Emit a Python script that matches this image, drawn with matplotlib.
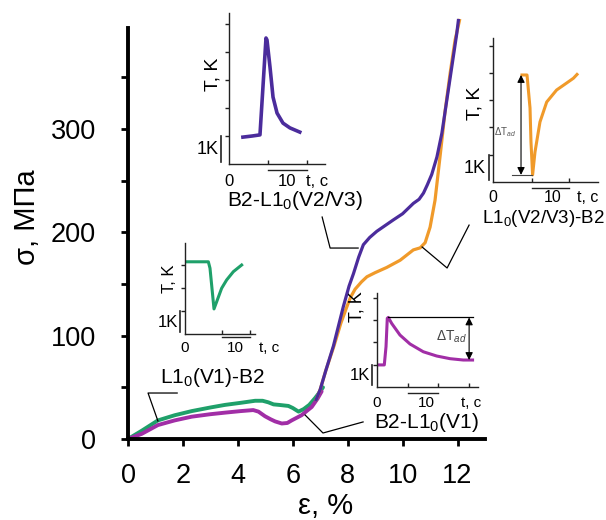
import matplotlib
matplotlib.use("Agg")
import matplotlib.pyplot as plt

plt.rcParams['font.family'] = ['Liberation Sans', 'DejaVu Sans']
plt.rcParams['mathtext.fontset'] = 'custom'
plt.rcParams['mathtext.rm'] = 'Liberation Sans'
plt.rcParams['mathtext.it'] = 'Liberation Sans:italic'

#********** main curves (strain %, stress MPa) **********
eps_green = [0, 0.5, 1.09, 1.7, 2.32, 3.0, 3.53, 4.1, 4.63, 4.9, 5.11, 5.3, 5.5, 5.84, 6.0, 6.21, 6.4, 6.6, 6.81, 7.0, 7.1]
sig_green = [0, 8, 18, 23, 27, 30.5, 33, 35, 37, 37, 35.5, 33.5, 33, 32, 30, 26.5, 29, 33, 39.5, 46, 50]
eps_mag = [0, 0.5, 1.09, 1.7, 2.32, 3.0, 3.53, 4.1, 4.56, 4.75, 4.99, 5.2, 5.36, 5.6, 5.8, 5.96, 6.32, 6.55, 6.69, 6.9, 7.05]
sig_mag = [0, 5, 13.5, 18, 21.6, 24, 25.5, 27, 28, 26.5, 22, 19, 17, 15, 15.5, 18, 23, 28, 31, 39, 46]
eps_purple = [6.85, 7.0, 7.2, 7.48, 7.84, 8.05, 8.21, 8.4, 8.57, 8.8, 9.06, 9.66, 10.0, 10.39, 10.6, 10.76, 10.9, 11.06, 11.25, 11.43, 11.61, 11.79, 11.97, 12.03]
sig_purple = [38, 48, 66, 90, 128, 148, 160, 176, 188, 195, 201, 212, 218, 228, 232, 238, 246, 256, 273, 296, 328, 360, 392, 405]
eps_orange = [6.85, 7.0, 7.2, 7.5, 7.75, 7.97, 8.1, 8.27, 8.5, 8.7, 9.0, 9.42, 9.91, 10.39, 10.64, 10.82, 11.0, 11.18, 11.37, 11.55, 11.73, 11.91, 12.07]
sig_orange = [38, 48, 66, 90, 112, 128, 137, 145, 152, 157, 161, 166, 173, 183, 185, 190, 205, 231, 275, 318, 354, 386, 405]

#********** inset curves (time s, temperature K) **********
t_purple = [2.4, 4.0, 5.34, 6.38, 6.55, 7.07, 7.59, 8.28, 9.31, 10.5, 12.2]
T_purple = [0.96, 1.0, 1.04, 4.5, 4.43, 3.46, 2.39, 1.82, 1.46, 1.29, 1.14]
t_orange = [4.83, 5.67, 6.17, 6.33, 6.6, 7.0, 7.83, 8.95, 10.6, 12.3, 13.4, 14.0]
T_orange = [3.92, 3.92, 2.71, 1.47, 0.26, 1.1, 2.2, 2.93, 3.37, 3.63, 3.8, 3.94]
t_green = [0.33, 4.67, 5.0, 5.33, 5.8, 6.33, 7.33, 8.33, 9.67, 11.33]
T_green = [3.14, 3.14, 2.86, 2.13, 1.09, 1.4, 1.99, 2.35, 2.71, 3.0]
t_mag = [0.27, 1.49, 1.84, 2.1, 2.31, 3.0, 4.69, 6.73, 9.45, 12.18, 14.9, 17.6, 19.5]
T_mag = [0.99, 0.99, 1.81, 3.08, 3.12, 2.85, 2.33, 1.93, 1.58, 1.39, 1.27, 1.21, 1.21]

x_ticks = [0, 2, 4, 6, 8, 10, 12]
y_ticks = [0, 100, 200, 300]
y_minor = [50, 150, 250, 350]

c_purple = '#4b2c9c'
c_orange = '#f09a2a'
c_green = '#1fa06a'
c_mag = '#a12ea6'

W, H = 606, 520


def box(x0, ytop, x1, ybot):
    return [x0 / W, 1 - ybot / H, (x1 - x0) / W, (ybot - ytop) / H]


fig = plt.figure(figsize=(W / 100, H / 100), dpi=100)
ax = fig.add_axes(box(128, 439 - 410 * 1.0333, 485, 439))
ax.patch.set_alpha(0)

ax.plot(eps_green, sig_green, color=c_green, lw=2.8, solid_capstyle='round')
ax.plot(eps_mag, sig_mag, color=c_mag, lw=2.8, solid_capstyle='round')
ax.plot(eps_orange, sig_orange, color=c_orange, lw=2.3, clip_on=False)
ax.plot(eps_purple, sig_purple, color=c_purple, lw=2.3, clip_on=False)

ax.set_xlim(0, 13)
ax.set_ylim(0, 410)
ax.spines['top'].set_visible(False)
ax.spines['right'].set_visible(False)
ax.spines['left'].set_bounds(0, 398)
for s in ['left', 'bottom']:
    ax.spines[s].set_linewidth(2.8)
ax.set_xticks(x_ticks)
ax.set_yticks(y_ticks)
ax.set_yticks(y_minor, minor=True)
ax.tick_params(axis='both', which='both', length=5, width=2, labelsize=19.5)
ax.tick_params(axis='x', pad=12)
ax.tick_params(axis='y', pad=18)
ax.set_ylabel('σ, МПа', fontsize=21)
ax.yaxis.set_label_coords(-0.245, 0.524)
ax.set_xlabel('ε, %', fontsize=21)
ax.xaxis.set_label_coords(0.553, -0.125)

# leader lines and phase labels
lab = dict(fontsize=15, ha='center', va='center')
ax.plot([1.79, 0.73, 1.09], [44.5, 44.5, 17.4], color='k', lw=0.9)
ax.text(3.06, 60, r'L1$_\mathrm{0}$(V1)-B2', **lab)
ax.plot([8.56, 7.10, 6.45], [16.5, 5.8, 23.2], color='k', lw=0.9)
ax.text(10.86, 15.5, r'B2-L1$_\mathrm{0}$(V1)', **lab)
ax.plot([8.38, 7.36, 7.07], [184.8, 184.8, 214.8], color='k', lw=0.9)
ax.text(6.08, 231, r'B2-L1$_\mathrm{0}$(V2/V3)', **lab)
ax.plot([10.71, 11.62, 12.42], [185.8, 165.5, 207], color='k', lw=0.9, clip_on=False)
ax.text(15.12, 213, r'L1$_\mathrm{0}$(V2/V3)-B2', clip_on=False, fontsize=13.5, ha='center', va='center')


def make_inset(x0, ybot, x1, ytop, px_s, px_k):
    a = fig.add_axes(box(x0, ytop, x1, ybot))
    a.patch.set_alpha(0)
    a.set_xlim(0, (x1 - x0) / px_s)
    a.set_ylim(0, (ybot - ytop) / px_k)
    a.spines['top'].set_visible(False)
    a.spines['right'].set_visible(False)
    for s in ['left', 'bottom']:
        a.spines[s].set_linewidth(1.0)
        a.spines[s].set_color('#222222')
    a.tick_params(axis='y', direction='out', length=3, width=1, color='#222222', labelleft=False)
    a.tick_params(axis='x', direction='in', length=3, width=1, color='#222222', labelbottom=False)
    return a


def decorate(a, ticks, bar, bar_y, lab_y, tc_x, kx, k_lab_x, tk, fs_t=12, fs_k=13, fs_tk=14):
    a.set_xticks(ticks)
    a.set_yticks(range(1, int(a.get_ylim()[1]) + 1))
    a.plot(bar, [bar_y, bar_y], color='#222222', lw=1, clip_on=False)
    a.plot([kx, kx], [0.08, 1.0], color='#222222', lw=1.2, clip_on=False)
    a.text(k_lab_x, 0.5, '1K', fontsize=fs_k, ha='right', va='center')
    a.text(0, lab_y, '0', fontsize=fs_t, ha='center', va='top')
    a.text(10, lab_y, '10', fontsize=fs_t, ha='center', va='top')
    a.text(tc_x, lab_y, 't, c', fontsize=fs_t, ha='center', va='top')
    a.text(tk[0], tk[1], 'T, K', fontsize=fs_tk, rotation=90, ha='center', va='center')


def dbl_arrow(a, x, y1, y2):
    a.annotate('', xy=(x, y1), xytext=(x, y2),
               arrowprops=dict(arrowstyle='<|-|>', color='k', lw=0.8,
                               mutation_scale=11, shrinkA=0, shrinkB=0))


# B2-L10(V2/V3) inset
ai = make_inset(229, 164, 325, 13, 5.8, 28)
ai.plot(t_purple, T_purple, color=c_purple, lw=2.6, solid_joinstyle='round')
decorate(ai, [6.7, 13.4], [6.7, 13.4], -0.22, -0.35, 15.2, -1.4, -1.8, (-2.8, 3.2))

# L10(V2/V3)-B2 inset
ai = make_inset(493, 182, 598, 38, 6.0, 27.3)
ai.plot(t_orange, T_orange, color=c_orange, lw=2.2)
decorate(ai, [6.5, 12.7], [6.5, 12.7], -0.22, -0.3, 15.7, -0.67, -1.2, (-3.0, 2.9), fs_t=11.5)
ai.plot([3.17, 6.5], [0.26, 0.26], color='#444444', lw=0.8)
dbl_arrow(ai, 4.67, 3.92, 0.26)
ai.text(2.0, 1.83, r'ΔT$_{ad}$', fontsize=7, color='#555555', ha='center', va='center')

# L10(V1)-B2 inset
ai = make_inset(185, 334, 255, 243, 5.0, 23)
ai.plot(t_green, T_green, color=c_green, lw=2.2)
decorate(ai, [7.4, 13], [7.4, 13], -0.15, -0.3, 16.8, -1.0, -1.4, (-3.0, 2.4), fs_t=11, fs_k=12, fs_tk=12)

# B2-L10(V1) inset
ai = make_inset(377, 387, 478, 293, 4.9, 22.3)
ai.plot(t_mag, T_mag, color=c_mag, lw=2.2)
decorate(ai, [6.3, 12.4, 18.8], [6.3, 12.4], -0.27, -0.4, 19.2, -1.0, -1.4, (-4.1, 3.6), fs_t=11, fs_k=12, fs_tk=13)
ai.plot([2.3, 19.5], [3.12, 3.12], color='k', lw=0.9)
dbl_arrow(ai, 18.8, 3.12, 1.21)
ai.text(15.3, 2.24, r'ΔT$_{ad}$', fontsize=10, color='#444444', ha='center', va='center')

fig.savefig('out.png', dpi=100)
